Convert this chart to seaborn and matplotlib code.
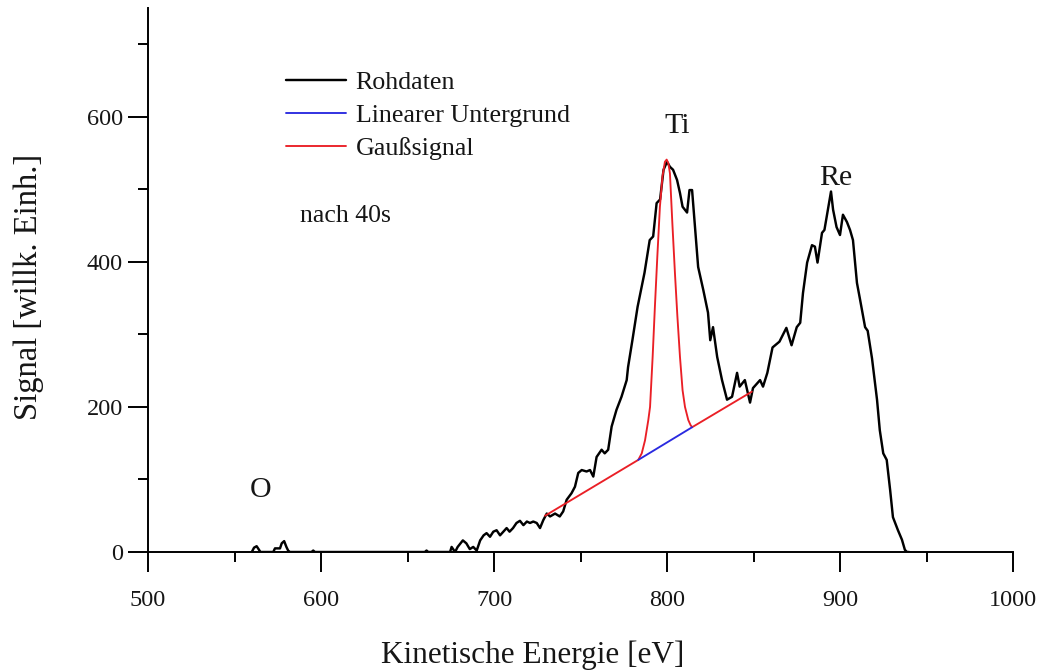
import matplotlib
matplotlib.use("Agg")
import matplotlib.pyplot as plt
import seaborn as sns
from matplotlib.ticker import MultipleLocator

# Raw Auger spectrum (kinetic energy in eV, signal in arbitrary units)
energy_raw = [
    560, 561.3, 562.8, 564.2, 565, 572.4, 573.4, 576.3, 577.3, 578.7, 580, 581, 582,
    594.5, 595.5, 596.5, 660, 661, 662,
    674.6, 675.5, 677.5, 679, 682, 684, 686, 688, 690, 692, 694, 695.7, 697.7,
    699.6, 701.5, 703.5, 705.4, 707.3, 709, 711, 713, 715, 717, 719, 720.8,
    722.7, 724.7, 726.6, 728.5, 730.5, 732.4, 735.3, 738, 740, 742, 744.8,
    746.8, 748.7, 750.7, 753.5, 755.5, 757.4, 759.3, 762.2, 764, 766, 768,
    770.8, 773.7, 776.7, 777.5, 780, 783, 787, 790, 792, 794, 796, 798, 800,
    801.7, 803.5, 805.8, 807.5, 809, 811.6, 813, 814.5, 816, 818, 821, 823.7,
    825, 826.6, 829, 831.8, 834.7, 837.6, 840.5, 842, 845, 848, 849.7, 853.8,
    855.5, 858, 861, 865, 869, 872, 875, 877, 878.6, 881, 883.8, 885.5, 887,
    889.6, 891, 893, 894.8, 896, 898, 900, 901.7, 904, 905.8, 907.5, 909.8,
    911.6, 914.5, 916, 918.5, 921.4, 923, 925, 927, 929, 930.6, 933.5, 935.8,
    937.5, 938.7, 940,
]
signal_raw = [
    0, 6, 8, 3, 0, 0, 5, 5, 12, 15, 7, 2, 0,
    0, 2, 0, 0, 2, 0,
    0, 7, 0, 7, 16, 12, 4, 7, 2, 16, 23, 26, 21,
    28, 30, 23, 28, 33, 28, 33, 40, 43, 37, 42, 40,
    42, 40, 33, 44, 53, 49, 53, 49, 56, 72, 81,
    90, 109, 113, 111, 113, 104, 131, 141, 136, 141, 173,
    196, 214, 237, 255, 292, 338, 385, 430, 435, 481, 486, 527, 538,
    531, 527, 513, 495, 476, 468, 499, 499, 454, 393, 361, 330,
    292, 310, 269, 237, 210, 214, 247, 228, 237, 206, 226, 237,
    228, 247, 282, 290, 309, 285, 310, 316, 357, 399, 423, 421, 399,
    440, 444, 472, 497, 472, 448, 437, 465, 455, 444, 430, 371,
    348, 310, 305, 267, 210, 168, 136, 127, 85, 48, 30, 17,
    3, 0, 0,
]

# Linear background under the Ti peak
energy_bg = [783.4, 814.5]
signal_bg = [127, 172]

# Gaussian fit of the Ti peak, sitting on the linear background
energy_fit = [
    729.5, 783.4, 785.4, 787.3, 789.2, 790.2, 791.7, 793, 794.4, 795.9, 797.4,
    798.8, 799.8, 800.8, 801.7, 803.1, 804.6, 806, 807.5, 809, 810.4, 812.3,
    813.6, 814.5, 849,
]
signal_fit = [
    50, 127, 136, 154, 182, 200, 269, 338, 407, 476, 518,
    538, 541, 536, 522, 453, 384, 325, 269, 223, 200, 182,
    175, 172, 221,
]

legend_labels = ["Rohdaten", "Linearer Untergrund", "Gaußsignal"]
peak_labels = [("O", 565.3, 86), ("Ti", 805.8, 587), ("Re", 897.7, 516)]
note_text = "nach 40s"

sns.set_theme(style="ticks")
plt.rcParams["font.family"] = ["Liberation Serif", "DejaVu Serif"]
plt.rcParams["axes.linewidth"] = 1.4

text_color = "#161616"

fig = plt.figure(figsize=(10.45, 6.7), dpi=100)
ax = fig.add_axes([148 / 1045, 1 - 552 / 670, 865 / 1045, 544 / 670])

sns.lineplot(x=energy_raw, y=signal_raw, ax=ax, color="black", linewidth=1.75,
             sort=False, estimator=None, label=legend_labels[0])
sns.lineplot(x=energy_fit, y=signal_fit, ax=ax, color="#ea1f26", linewidth=1.35,
             sort=False, estimator=None, label=legend_labels[2])
sns.lineplot(x=energy_bg, y=signal_bg, ax=ax, color="#2a2ae0", linewidth=1.35,
             sort=False, estimator=None, label=legend_labels[1])

ax.set_xlim(500, 1000)
ax.set_ylim(0, 750)
ax.xaxis.set_major_locator(MultipleLocator(100))
ax.xaxis.set_minor_locator(MultipleLocator(50))
ax.yaxis.set_major_locator(MultipleLocator(200))
ax.yaxis.set_minor_locator(MultipleLocator(100))
for side in ("top", "right"):
    ax.spines[side].set_visible(False)
for side in ("left", "bottom"):
    ax.spines[side].set_color("black")

ax.tick_params(axis="both", which="major", direction="out", length=14.5, width=1.4,
               color="black", labelsize=17.5, labelcolor=text_color)
ax.tick_params(axis="both", which="minor", direction="out", length=7.5, width=1.4,
               color="black")
ax.tick_params(axis="x", which="major", pad=13)
ax.tick_params(axis="y", which="major", pad=3.5)

ax.set_xlabel("Kinetische Energie [eV]", fontsize=22.5, color=text_color)
ax.set_ylabel("Signal [willk. Einh.]", fontsize=23.5, color=text_color)
ax.xaxis.set_label_coords(0.445, -0.162)
ax.yaxis.set_label_coords(-0.12, 0.487)

for text, x, y in peak_labels:
    ax.text(x, y, text, fontsize=21.5, ha="center", va="center", color=text_color)
ax.text(588, 463, note_text, fontsize=18.5, ha="left", va="center", color=text_color)

handles, labels = ax.get_legend_handles_labels()
order = [labels.index(l) for l in legend_labels]
ax.legend([handles[i] for i in order], [labels[i] for i in order],
          loc="upper left", bbox_to_anchor=(0.1595, 0.884), frameon=False,
          fontsize=18.7, handlelength=2.3, handletextpad=0.38,
          labelspacing=0.38, borderpad=0, borderaxespad=0,
          labelcolor=text_color)

fig.savefig("out.png", dpi=100)
